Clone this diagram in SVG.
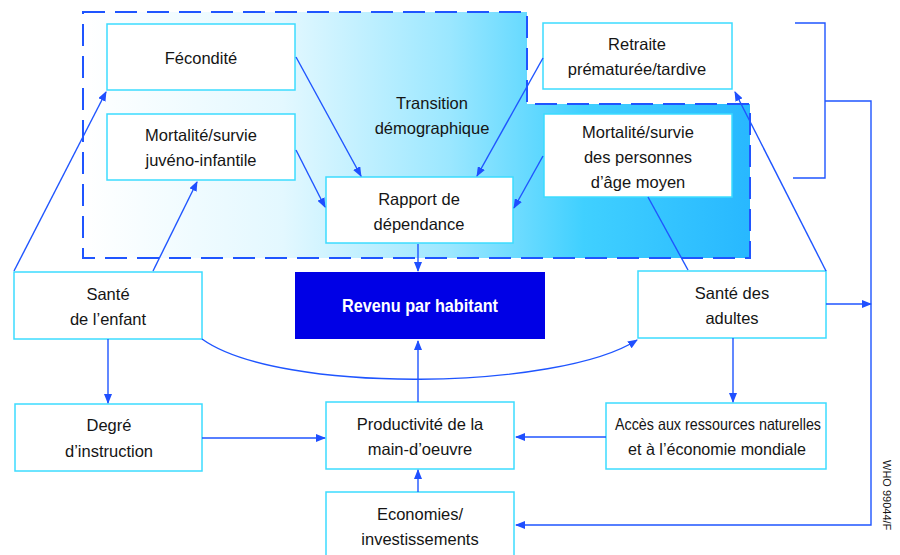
<svg xmlns="http://www.w3.org/2000/svg" width="900" height="555" viewBox="0 0 900 555">
<defs>
<linearGradient id="bg" x1="83" y1="0" x2="750" y2="0" gradientUnits="userSpaceOnUse">
<stop offset="0" stop-color="#ffffff"/>
<stop offset="0.3" stop-color="#e3f8ff"/>
<stop offset="0.55" stop-color="#9be7ff"/>
<stop offset="0.75" stop-color="#40d0ff"/>
<stop offset="1" stop-color="#28b8ff"/>
</linearGradient>
<marker id="ah" markerWidth="10" markerHeight="8" refX="9" refY="4" orient="auto" markerUnits="userSpaceOnUse">
<path d="M0,0 L10,4 L0,8 z" fill="#1f4fff"/>
</marker>
<style>
.box{fill:#fff;stroke:#3cdcff;stroke-width:1.5}
.t{font-family:"Liberation Sans",Arial,sans-serif;font-size:16.5px;fill:#151515;text-anchor:middle}
.c{fill:none;stroke:#1f55ff;stroke-width:1.4}
.a{marker-end:url(#ah)}
</style>
</defs>
<rect width="900" height="555" fill="#fff"/>
<g id="transition-zone">
<path d="M83,12 H527 V104 H750 V258 H83 Z" fill="url(#bg)" stroke="#1f55ff" stroke-width="2" stroke-dasharray="22,10"/>
<text class="t" x="432" y="109">Transition</text>
<text class="t" x="432" y="134">démographique</text>
</g>
<g id="fecondite"><rect class="box" x="107" y="24" width="188" height="66"/><text class="t" x="201" y="64">Fécondité</text></g>
<g id="mortalite-juveno"><rect class="box" x="107" y="114" width="188" height="66"/><text class="t" x="201" y="141">Mortalité/survie</text><text class="t" x="201" y="166">juvéno-infantile</text></g>
<g id="rapport"><rect class="box" x="326" y="177" width="187" height="66"/><text class="t" x="419" y="205">Rapport de</text><text class="t" x="419" y="230">dépendance</text></g>
<g id="retraite"><rect class="box" x="543" y="23" width="189" height="66"/><text class="t" x="637" y="50">Retraite</text><text class="t" x="637" y="75">prématurée/tardive</text></g>
<g id="mortalite-moyen"><rect class="box" x="544" y="114" width="188" height="83"/><text class="t" x="638" y="138">Mortalité/survie</text><text class="t" x="638" y="163">des personnes</text><text class="t" x="638" y="188">d’âge moyen</text></g>
<g id="revenu"><rect x="295" y="272" width="250" height="67" fill="#0000e6"/><text class="t" x="420" y="312" style="fill:#fff;font-weight:bold;font-size:18.5px" textLength="156" lengthAdjust="spacingAndGlyphs">Revenu par habitant</text></g>
<g id="sante-enfant"><rect class="box" x="14" y="272" width="188" height="67"/><text class="t" x="108" y="300">Santé</text><text class="t" x="108" y="325">de l’enfant</text></g>
<g id="sante-adultes"><rect class="box" x="638" y="271" width="188" height="67"/><text class="t" x="732" y="299">Santé des</text><text class="t" x="732" y="324">adultes</text></g>
<g id="degre"><rect class="box" x="15" y="404" width="187" height="67"/><text class="t" x="109" y="431">Degré</text><text class="t" x="109" y="457">d’instruction</text></g>
<g id="productivite"><rect class="box" x="326" y="402" width="188" height="67"/><text class="t" x="420" y="430">Productivité de la</text><text class="t" x="420" y="455">main-d’oeuvre</text></g>
<g id="acces"><rect class="box" x="606" y="403" width="220" height="66"/><text class="t" x="718" y="430" textLength="206" lengthAdjust="spacingAndGlyphs">Accès aux ressources naturelles</text><text class="t" x="717" y="455" textLength="178" lengthAdjust="spacingAndGlyphs">et à l’économie mondiale</text></g>
<g id="economies"><rect class="box" x="326" y="492" width="188" height="70"/><text class="t" x="420" y="520">Economies/</text><text class="t" x="420" y="545">investissements</text></g>
<g id="connectors">
<path class="c a" d="M14,271 L106,92"/>
<path class="c a" d="M153,271 L197,182"/>
<path class="c a" d="M296,57 L361,176"/>
<path class="c a" d="M296,150 L325,207"/>
<path class="c a" d="M543,58 L477,176"/>
<path class="c a" d="M543,156 L514,208"/>
<path class="c a" d="M418,244 L418,271"/>
<path class="c" d="M648,197 L688,270"/>
<path class="c a" d="M826,271 L735,92"/>
<path class="c a" d="M826,304 L871,304"/>
<path class="c a" d="M202,339 C280,395 560,390 637,340"/>
<path class="c a" d="M108,339 L108,403"/>
<path class="c a" d="M202,438 L325,438"/>
<path class="c a" d="M606,437 L516,437"/>
<path class="c a" d="M733,338 L733,402"/>
<path class="c a" d="M418,402 L418,341"/>
<path class="c a" d="M418,492 L418,470"/>
<path class="c" d="M795,23 H825 V178 H793"/>
<path class="c a" d="M825,101 H871 V525 H516"/>
</g>
<text x="883" y="460" transform="rotate(90 883 460)" style="font-family:'Liberation Sans',Arial,sans-serif;font-size:11px;fill:#151515">WHO 99044/F</text>
</svg>
